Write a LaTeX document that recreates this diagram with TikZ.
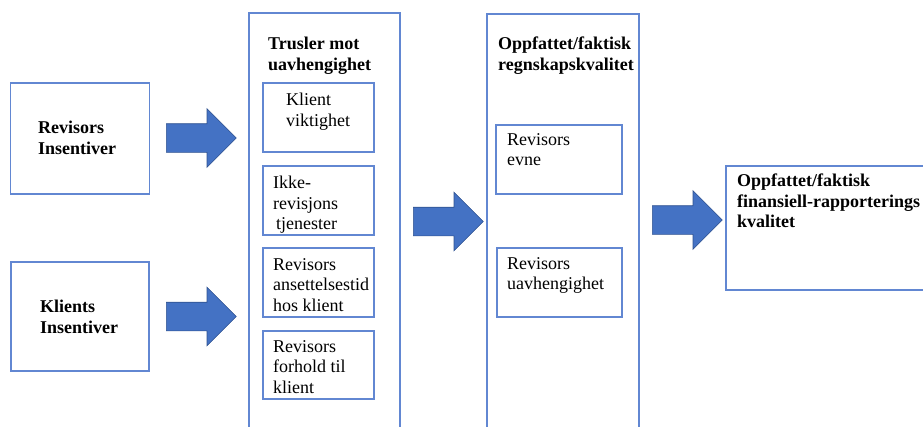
\documentclass[tikz,border=0pt]{standalone}
\usepackage{fontspec}
\setmainfont{Liberation Serif}
\usetikzlibrary{shapes.arrows}

\definecolor{boxblue}{RGB}{98,135,210}
\definecolor{arrowfill}{RGB}{68,114,196}
\definecolor{arrowline}{RGB}{47,82,143}

\begin{document}
\begin{tikzpicture}[x=1pt, y=-1pt,
    box/.style={draw=boxblue, line width=1.2pt, rectangle, inner sep=0pt},
    label text/.style={anchor=north west, align=left, inner sep=0pt,
        font=\fontsize{18}{20.5}\selectfont},
    bold text/.style={label text, font=\fontsize{18}{20.5}\selectfont\bfseries},
    blockarrow/.style={single arrow, draw=arrowline, fill=arrowfill, line width=0.6pt,
        minimum height=70pt, inner xsep=0pt, inner ysep=14pt,
        single arrow head extend=15pt, anchor=tail}]
    \useasboundingbox (0,0) rectangle (923,426);
    \clip (0,0) rectangle (923,426);

    % incentives
    \node[box, minimum width=139pt, minimum height=111pt] (revinc) at (80,138.5) {};
    \node[box, minimum width=138pt, minimum height=109pt] (klinc) at (80,316.5) {};
    \node[bold text] at (38,121) {Revisors\\Insentiver};
    \node[bold text] at (40,300) {Klients\\Insentiver};

    % threats to independence
    \node[box, minimum width=151pt, minimum height=440pt] (threats) at (324.5,233) {};
    \node[bold text] at (268,37) {Trusler mot\\uavhengighet};
    \node[box, minimum width=111pt, minimum height=69pt] (viktig) at (318.5,117.5) {};
    \node[box, minimum width=111pt, minimum height=69pt] (tjenester) at (318.5,200.5) {};
    \node[box, minimum width=111pt, minimum height=69pt] (ansatt) at (318.5,282.5) {};
    \node[box, minimum width=111pt, minimum height=68pt] (forhold) at (318.5,365) {};
    \node[label text] at (286,93) {Klient\\viktighet};
    \node[label text] at (273,176) {Ikke-\\revisjons\\\hspace{3pt}tjenester};
    \node[label text] at (273,258) {Revisors\\ansettelsestid\\hos klient};
    \node[label text] at (273,340) {Revisors\\forhold til\\klient};

    % accounting quality
    \node[box, minimum width=152pt, minimum height=440pt] (regnskap) at (563,234) {};
    \node[bold text] at (498,37) {Oppfattet/faktisk\\regnskapskvalitet};
    \node[box, minimum width=126pt, minimum height=69pt] (evne) at (559,159.5) {};
    \node[box, minimum width=125pt, minimum height=69pt] (uavh) at (559.5,282.5) {};
    \node[label text] at (507,133) {Revisors\\evne};
    \node[label text] at (507,257) {Revisors\\uavhengighet};

    % financial reporting quality
    \node[box, minimum width=220pt, minimum height=124pt] (rapport) at (836,228) {};
    \node[bold text] at (737,174) {Oppfattet/faktisk\\finansiell-rapporterings\\kvalitet};

    % block arrows
    \node[blockarrow] (pil1) at (166,138) {};
    \node[blockarrow] (pil2) at (166,316.5) {};
    \node[blockarrow] (pil3) at (413,221.5) {};
    \node[blockarrow] (pil4) at (652,220) {};
\end{tikzpicture}
\end{document}
